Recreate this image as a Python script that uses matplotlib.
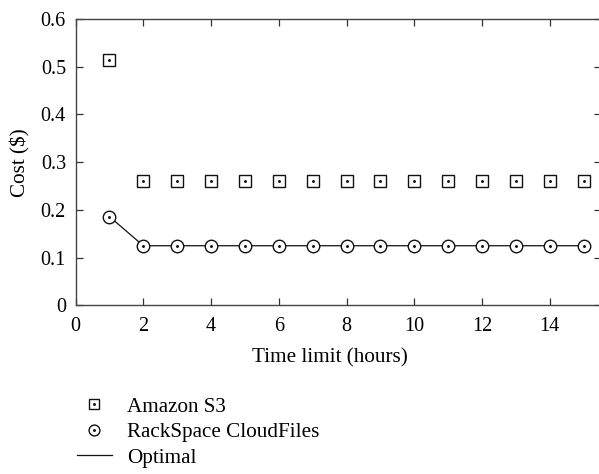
import matplotlib
matplotlib.use("Agg")
import matplotlib.pyplot as plt
from matplotlib.lines import Line2D

hours = [1, 2, 3, 4, 5, 6, 7, 8, 9, 10, 11, 12, 13, 14, 15]
amazon_s3 = [0.515, 0.26, 0.26, 0.26, 0.26, 0.26, 0.26, 0.26, 0.26, 0.26, 0.26, 0.26, 0.26, 0.26, 0.26]
rackspace = [0.186, 0.125, 0.125, 0.125, 0.125, 0.125, 0.125, 0.125, 0.125, 0.125, 0.125, 0.125, 0.125, 0.125, 0.125]
optimal = [0.186, 0.125, 0.125, 0.125, 0.125, 0.125, 0.125, 0.125, 0.125, 0.125, 0.125, 0.125, 0.125, 0.125, 0.125]
xticks = [0, 2, 4, 6, 8, 10, 12, 14]
yticks = [0, 0.1, 0.2, 0.3, 0.4, 0.5, 0.6]
ytick_labels = ["0", "0.1", "0.2", "0.3", "0.4", "0.5", "0.6"]

plt.rcParams['font.family'] = ['Liberation Serif', 'DejaVu Serif']
FS = 14.5
LFS = 15.2
plt.rcParams['font.size'] = FS

fig = plt.figure(figsize=(5.99, 4.74), dpi=100)
W, H = 599, 474
left, right, top, bottom = 75.6, 600.5, 19, 305.4
ax = fig.add_axes([left / W, 1 - bottom / H, (right - left) / W, (bottom - top) / H])

col = '#111111'
ax.plot(hours, optimal, '-', color=col, lw=0.9, zorder=2)
ax.plot(hours, amazon_s3, 's', ms=8.3, mfc='white', mec=col, mew=1.0, ls='none', zorder=3)
ax.plot(hours, amazon_s3, '.', ms=2.2, color=col, ls='none', zorder=4)
ax.plot(hours, rackspace, 'o', ms=9.0, mfc='white', mec=col, mew=1.0, ls='none', zorder=3)
ax.plot(hours, rackspace, '.', ms=2.2, color=col, ls='none', zorder=4)

ax.set_xlim(0, 15.5)
ax.set_ylim(0, 0.6)
ax.set_xticks(xticks)
ax.set_yticks(yticks)
ax.set_yticklabels(ytick_labels)
ax.tick_params(direction='in', top=True, right=True, length=5, width=0.9, color='#333333', labelsize=FS)
ax.tick_params(axis='x', pad=8)
ax.tick_params(axis='y', pad=7)
for s in ax.spines.values():
    s.set_linewidth(1.0)
    s.set_color('#444444')

ax.set_xlabel('Time limit (hours)', fontsize=LFS)
ax.xaxis.set_label_coords((330 - left) / (right - left), (bottom - 362) / (bottom - top))
ax.xaxis.label.set_verticalalignment('baseline')
ax.set_ylabel('Cost ($)', fontsize=LFS)
ax.yaxis.set_label_coords((25 - left) / (right - left), 0.5)
ax.yaxis.label.set_verticalalignment('baseline')

h_s3 = (Line2D([], [], marker='s', ms=7.3, mfc='white', mec=col, mew=1.0, ls='none'),
        Line2D([], [], marker='.', ms=2.2, color=col, ls='none'))
h_rs = (Line2D([], [], marker='o', ms=7.8, mfc='white', mec=col, mew=1.0, ls='none'),
        Line2D([], [], marker='.', ms=2.2, color=col, ls='none'))
h_opt = Line2D([], [], color=col, lw=0.9)
fig.legend([h_s3, h_rs, h_opt], ['Amazon S3', 'RackSpace CloudFiles', 'Optimal'],
           loc='upper left', bbox_to_anchor=(77 / W, 1 - 397 / H), frameon=False,
           handlelength=1.65, handletextpad=0.72, labelspacing=0.27, fontsize=LFS,
           borderaxespad=0, borderpad=0)

fig.savefig('out.png', dpi=100)
